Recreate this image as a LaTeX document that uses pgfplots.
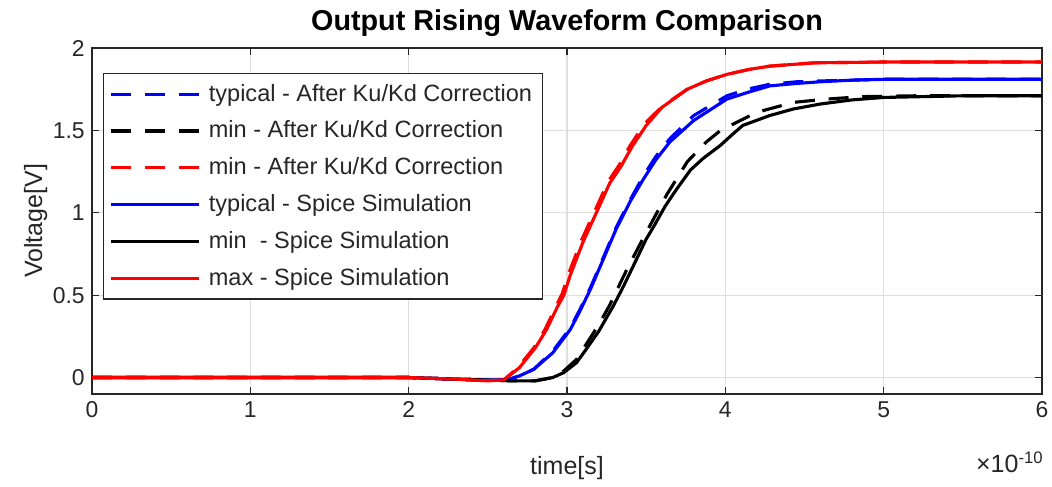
\documentclass[border=0pt]{standalone}
\usepackage{pgfplots}
\pgfplotsset{compat=1.18}
\usepackage{fontspec}
\setmainfont{Liberation Sans}
\definecolor{axgray}{rgb}{0.15,0.15,0.15}
\definecolor{gridgray}{rgb}{0.87,0.87,0.87}
\begin{document}
\begin{tikzpicture}
\begin{axis}[
  scale only axis, width=456pt, height=166.08pt,
  xmin=0, xmax=6, ymin=-0.1, ymax=2,
  xtick={0,1,2,3,4,5,6}, ytick={0,0.5,1,1.5,2},
  tick align=inside, major tick length=3.5pt,
  grid=major, grid style={line width=0.5pt, color=gridgray},
  axis line style={line width=0.6pt, color=axgray},
  tick style={line width=0.6pt, color=axgray},
  ticklabel style={font=\fontsize{11}{13}\selectfont, text=axgray},
  /pgf/number format/assume math mode=true,
  xlabel={time[s]},
  xlabel style={font=\fontsize{12}{14}\selectfont, text=axgray, at={(axis description cs:0.5,0)}, anchor=base, yshift=-38.4pt},
  ylabel={Voltage[V]},
  ylabel style={font=\fontsize{12}{14}\selectfont, text=axgray, at={(axis description cs:-0.0526,0.5)}, anchor=base, rotate=0},
  legend cell align=left,
  legend style={at={(0.0116,0.9277)}, anchor=north west, font=\fontsize{11.3}{13.5}\selectfont, text=axgray,
    draw=axgray, line width=0.6pt, row sep=4pt, inner xsep=3pt, inner ysep=3pt},
  legend image code/.code={\draw[#1] (0pt,0pt) -- (42pt,0pt); \path (44pt,0pt);},
  every axis plot/.append style={line width=1.5pt},
]
% typical - dashed
\addplot[blue, dash pattern=on 9.6pt off 6.6pt] coordinates {
(0,0) (2,0) (2.3,-0.01) (2.5,-0.015) (2.62,-0.015) (2.70,0.01) (2.79,0.05) (2.91,0.16)
(3.02,0.30) (3.08,0.41) (3.15,0.55) (3.23,0.73) (3.31,0.91) (3.40,1.08) (3.48,1.22)
(3.56,1.34) (3.65,1.45) (3.80,1.59) (4.01,1.71) (4.14,1.75) (4.28,1.78) (4.45,1.795)
(4.6,1.80) (4.8,1.805) (5,1.81) (6,1.81)};
% min - dashed
\addplot[black, dash pattern=on 9.6pt off 6.6pt] coordinates {
(0,0) (2,0) (2.3,-0.01) (2.5,-0.015) (2.65,-0.02) (2.8,-0.02) (2.91,0.0) (2.98,0.04)
(3.06,0.11) (3.12,0.20) (3.20,0.32) (3.27,0.44) (3.38,0.66) (3.50,0.88) (3.63,1.11)
(3.76,1.31) (3.88,1.43) (3.97,1.50) (4.20,1.61) (4.43,1.67) (4.64,1.69) (4.87,1.705)
(5.2,1.71) (6,1.71)};
% max - dashed
\addplot[red, dash pattern=on 9.6pt off 6.6pt] coordinates {
(0,0) (2,0) (2.3,-0.01) (2.5,-0.02) (2.6,-0.015) (2.69,0.06) (2.79,0.18) (2.86,0.29)
(2.93,0.43) (2.97,0.51) (3.01,0.63) (3.09,0.83) (3.18,1.02) (3.26,1.19) (3.33,1.29)
(3.40,1.41) (3.49,1.54) (3.6,1.645) (3.76,1.75) (3.88,1.80) (4.01,1.84) (4.15,1.87)
(4.28,1.89) (4.56,1.91) (5,1.915) (6,1.915)};
% typical - solid
\addplot[blue] coordinates {
(0,0) (2,0) (2.3,-0.01) (2.5,-0.015) (2.62,-0.015) (2.70,0.01) (2.79,0.05) (2.91,0.15)
(3.02,0.29) (3.08,0.40) (3.15,0.54) (3.23,0.72) (3.31,0.90) (3.40,1.07) (3.48,1.20)
(3.56,1.32) (3.65,1.43) (3.80,1.56) (4.01,1.69) (4.14,1.73) (4.28,1.77) (4.45,1.785)
(4.6,1.795) (4.8,1.805) (5,1.81) (6,1.81)};
% min - solid
\addplot[black] coordinates {
(0,0) (2,0) (2.3,-0.01) (2.5,-0.015) (2.65,-0.02) (2.8,-0.02) (2.91,0.0) (2.98,0.03)
(3.06,0.09) (3.12,0.17) (3.20,0.28) (3.29,0.43) (3.36,0.56) (3.42,0.68) (3.50,0.84)
(3.55,0.92) (3.62,1.04) (3.69,1.14) (3.78,1.26) (3.86,1.33) (3.97,1.41) (4.05,1.48)
(4.11,1.53) (4.28,1.59) (4.43,1.63) (4.6,1.66) (4.8,1.685) (5.0,1.70) (5.5,1.71) (6,1.71)};
% max - solid
\addplot[red] coordinates {
(0,0) (2,0) (2.3,-0.01) (2.5,-0.02) (2.6,-0.015) (2.7,0.06) (2.8,0.18) (2.87,0.29)
(2.94,0.43) (2.98,0.50) (3.02,0.62) (3.10,0.82) (3.19,1.01) (3.27,1.18) (3.34,1.28)
(3.41,1.40) (3.50,1.53) (3.6,1.64) (3.76,1.75) (3.88,1.80) (4.01,1.84) (4.15,1.87)
(4.28,1.89) (4.56,1.91) (5,1.915) (6,1.915)};
\legend{typical - After Ku/Kd Correction, min - After Ku/Kd Correction, min - After Ku/Kd Correction,
typical - Spice Simulation, min\ \ - Spice Simulation, max - Spice Simulation}
\end{axis}
\node[anchor=base, font=\fontsize{13.8}{16}\selectfont\bfseries, text=black, inner sep=0pt] at (228pt,174.7pt) {Output Rising Waveform Comparison};
\node[anchor=base east, font=\fontsize{12}{14}\selectfont, text=axgray, inner sep=0pt] at (457pt,-37.5pt) {×10\textsuperscript{-10}};
\pgfresetboundingbox
\path (-44.16pt,-44.16pt) rectangle (460.8pt,189.12pt);
\end{tikzpicture}
\end{document}
